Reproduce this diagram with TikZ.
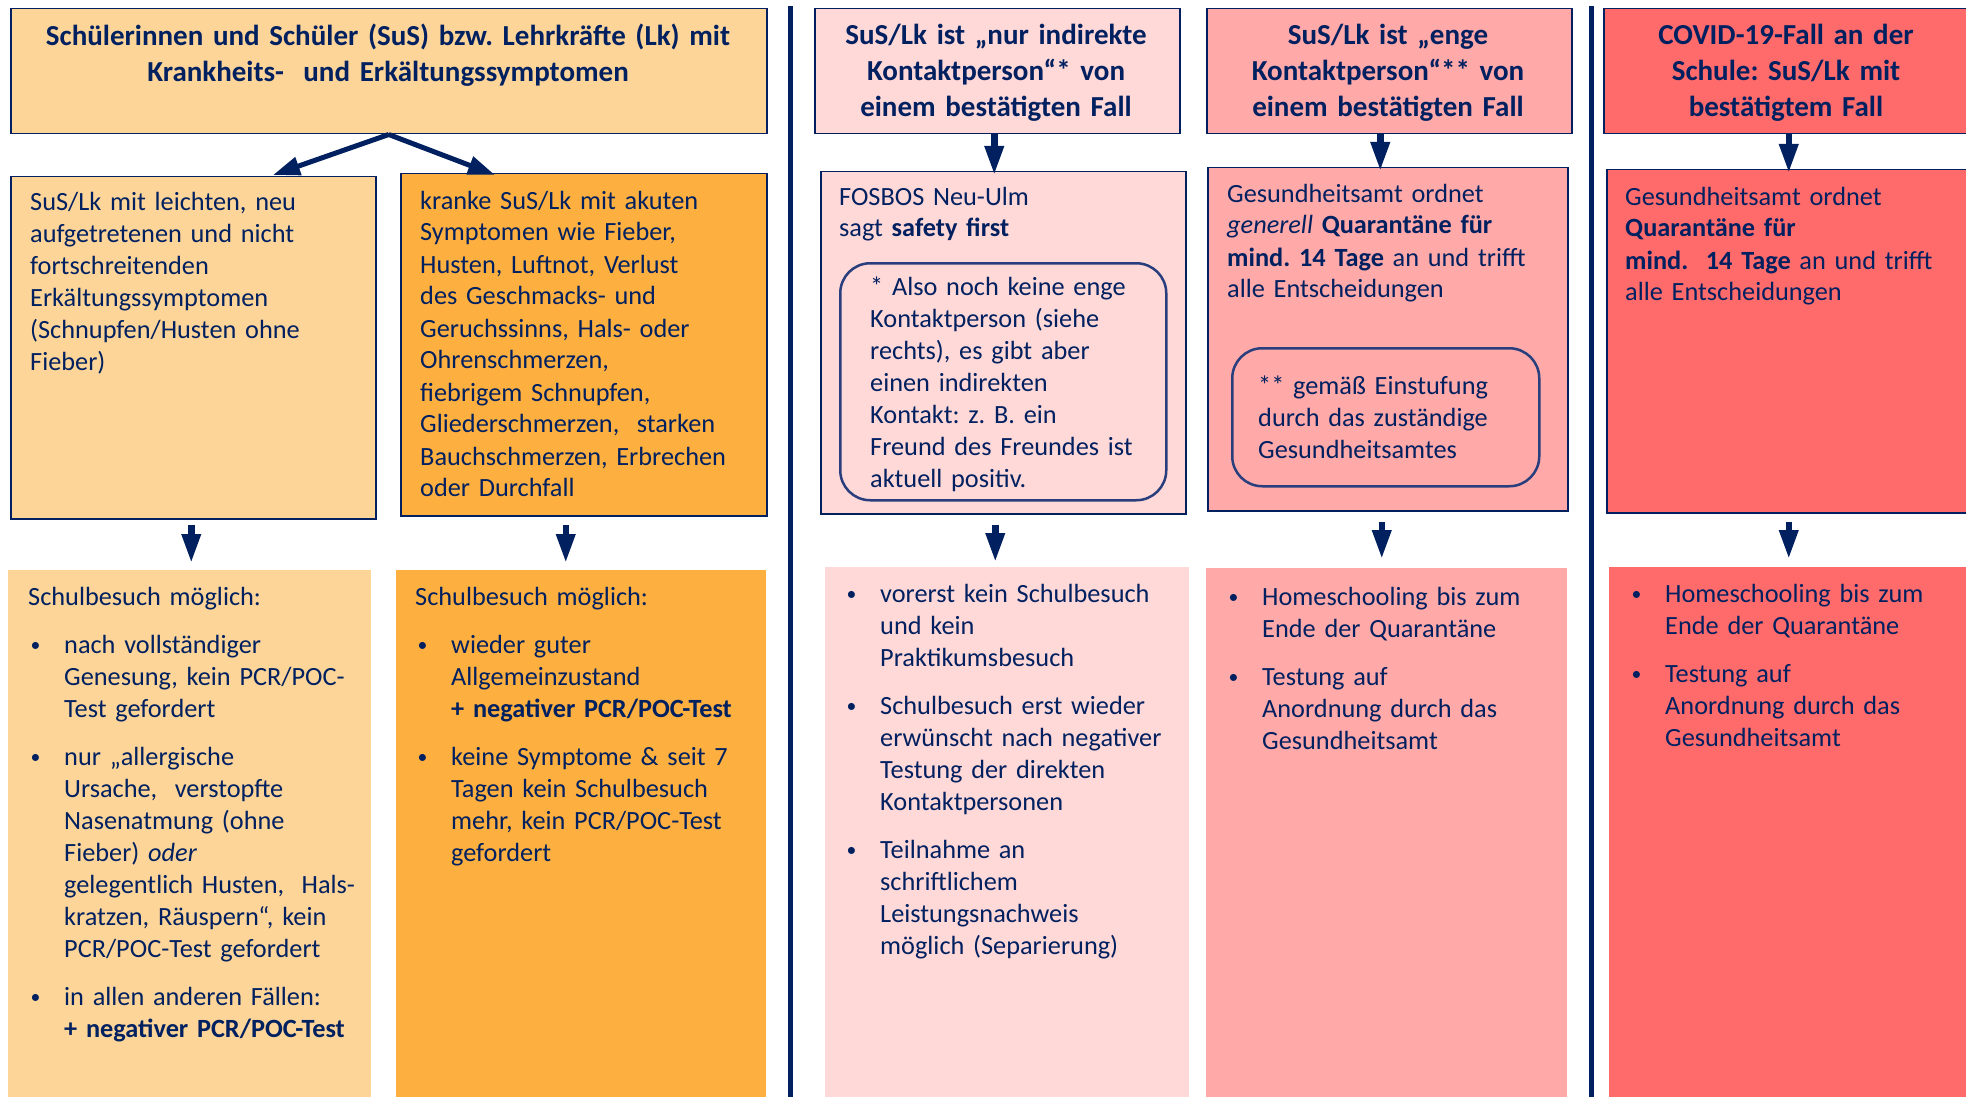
\documentclass[tikz,border=0pt]{standalone}
\usepackage{fontspec}
\usepackage{graphicx}
\setmainfont{Carlito}
\frenchspacing
\usetikzlibrary{arrows.meta,calc}
\definecolor{navy}{RGB}{0,32,96}
\definecolor{rbord}{RGB}{40,62,125}
\definecolor{lorange}{RGB}{253,213,153}
\definecolor{dorange}{RGB}{253,176,64}
\definecolor{lpink}{RGB}{255,216,216}
\definecolor{mpink}{RGB}{255,169,169}
\definecolor{dred}{RGB}{255,107,107}
\newcommand\mybullet{\raisebox{0.06em}{\scalebox{0.75}{\textbullet}}}
\newcommand\bitemfirst[1]{\hangindent=36pt\hangafter=1\noindent\makebox[36pt][l]{\hspace{2.5pt}\mybullet}#1\par}
\newcommand\bitem[1]{\par\vspace{16pt}\bitemfirst{#1}}
\begin{document}
\begin{tikzpicture}[x=1pt,y=-1pt,
  every node/.style={text=navy},
  framebox/.style={draw=navy, line width=1.5pt, anchor=north west, inner sep=0pt},
  bgbox/.style={draw=none, anchor=north west, inner sep=0pt},
  roundbox/.style={draw=rbord, line width=2.5pt, rounded corners=30pt, anchor=north west, inner sep=0pt},
  headtxt/.style={font=\fontsize{29}{36}\selectfont\bfseries, align=center, text width=#1, anchor=base, inner sep=0pt},
  bodytxt/.style={font=\fontsize{26.3}{32}\selectfont, align=left, text width=#1, anchor=base west, inner sep=0pt},
  arr/.style={draw=navy, line width=6.5pt, -{Triangle[width=18pt,length=29pt]}},
  arrthick/.style={draw=navy, line width=5pt, -{Triangle[width=18pt,length=27pt]}},
  divline/.style={draw=navy, line width=5pt},
]
\useasboundingbox (0,0) rectangle (1966,1097);
\fill[white] (0,0) rectangle (1966,1097);

% header boxes
\node[framebox, fill=lorange, minimum width=756, minimum height=125] (h1) at (10,8) {};
\node[framebox, fill=lpink, minimum width=365, minimum height=125] (h2) at (814,8) {};
\node[framebox, fill=mpink, minimum width=365, minimum height=125] (h3) at (1206,8) {};
\node[framebox, fill=dred, minimum width=380, minimum height=125] (h4) at (1603,8) {};

% dividers
\draw[divline] (790,6) -- (790,1097);
\draw[divline] (1591,6) -- (1591,1097);

% middle boxes
\node[framebox, fill=lorange, minimum width=365, minimum height=342] (A) at (10,176) {};
\node[framebox, fill=dorange, minimum width=366, minimum height=342] (B) at (400,173) {};
\node[framebox, fill=lpink, minimum width=365, minimum height=342] (C) at (820,171) {};
\node[framebox, fill=mpink, minimum width=360, minimum height=343] (D) at (1207,167) {};
\node[framebox, fill=dred, minimum width=380, minimum height=343] (E) at (1606,169) {};

% inner rounded boxes
\node[roundbox, minimum width=326, minimum height=237] (Cr) at (839,262) {};
\node[roundbox, minimum width=307, minimum height=138] (Dr) at (1231,347) {};

% bottom boxes
\node[bgbox, fill=lorange, minimum width=363, minimum height=527] (A2) at (8,570) {};
\node[bgbox, fill=dorange, minimum width=370, minimum height=527] (B2) at (396,570) {};
\node[bgbox, fill=lpink, minimum width=364, minimum height=530] (C2) at (825,567) {};
\node[bgbox, fill=mpink, minimum width=361, minimum height=529] (D2) at (1206,568) {};
\node[bgbox, fill=dred, minimum width=370, minimum height=530] (E2) at (1609,567) {};

% header texts
\node[headtxt=740] (h1t) at (388,46) {Schülerinnen und Schüler (SuS) bzw. Lehrkräfte (Lk) mit\\Krankheits-\ \ und Erkältungssymptomen};
\node[headtxt=350] (h2t) at (996,45) {SuS/Lk ist „nur indirekte\\Kontaktperson“* von\\einem bestätigten Fall};
\node[headtxt=350] (h3t) at (1388,45) {SuS/Lk ist „enge\\Kontaktperson“** von\\einem bestätigten Fall};
\node[headtxt=350] (h4t) at (1786,45) {COVID-19-Fall an der\\Schule: SuS/Lk mit\\bestätigtem Fall};

% middle texts
\node[bodytxt=340] (At) at (30,211) {SuS/Lk mit leichten, neu\\aufgetretenen und nicht\\fortschreitenden\\Erkältungssymptomen\\(Schnupfen/Husten ohne\\Fieber)};
\node[bodytxt=345] (Bt) at (420,209) {kranke SuS/Lk mit akuten\\Symptomen wie Fieber,\\Husten, Luftnot, Verlust\\des Geschmacks- und\\Geruchssinns, Hals- oder\\Ohrenschmerzen,\\fiebrigem Schnupfen,\\Gliederschmerzen,\ \ starken\\Bauchschmerzen, Erbrechen\\oder Durchfall};
\node[bodytxt=340] (Ct) at (839,205) {FOSBOS Neu-Ulm\\sagt \textbf{safety first}};
\node[bodytxt=290] (Crt) at (870,295) {* Also noch keine enge\\Kontaktperson (siehe\\rechts), es gibt aber\\einen indirekten\\Kontakt: z. B. ein\\Freund des Freundes ist\\aktuell positiv.};
\node[bodytxt=335] (Dt) at (1227,202) {Gesundheitsamt ordnet\\\textit{generell} \textbf{Quarantäne für}\\\textbf{mind. 14 Tage} an und trifft\\alle Entscheidungen};
\node[bodytxt=280] (Drt) at (1258,394) {** gemäß Einstufung\\durch das zuständige\\Gesundheitsamtes};
\node[bodytxt=335] (Et) at (1625,205) {Gesundheitsamt ordnet\\\textbf{Quarantäne für}\\\textbf{mind.\ \ 14 Tage} an und trifft\\alle Entscheidungen};

% bottom texts
\node[bodytxt=345] (A2t) at (28,605) {Schulbesuch möglich:
\bitem{nach vollständiger\newline Genesung, kein PCR/POC-\newline Test gefordert}
\bitem{nur „allergische\newline Ursache,\ \ verstopfte\newline Nasenatmung (ohne\newline Fieber) \textit{oder}\newline gelegentlich Husten,\ \ Hals-\newline kratzen, Räuspern“, kein\newline PCR/POC-Test gefordert}
\bitem{in allen anderen Fällen:\newline \textbf{+ negativer PCR/POC-Test}}};
\node[bodytxt=350] (B2t) at (415,605) {Schulbesuch möglich:
\bitem{wieder guter\newline Allgemeinzustand\newline \textbf{+ negativer PCR/POC-Test}}
\bitem{keine Symptome \& seit 7\newline Tagen kein Schulbesuch\newline mehr, kein PCR/POC-Test\newline gefordert}};
\node[bodytxt=345] (C2t) at (844,602) {\bitemfirst{vorerst kein Schulbesuch\newline und kein\newline Praktikumsbesuch}
\bitem{Schulbesuch erst wieder\newline erwünscht nach negativer\newline Testung der direkten\newline Kontaktpersonen}
\bitem{Teilnahme an\newline schriftlichem\newline Leistungsnachweis\newline möglich (Separierung)}};
\node[bodytxt=340] (D2t) at (1226,605) {\bitemfirst{Homeschooling bis zum\newline Ende der Quarantäne}
\bitem{Testung auf\newline Anordnung durch das\newline Gesundheitsamt}};
\node[bodytxt=330] (E2t) at (1629,602) {\bitemfirst{Homeschooling bis zum\newline Ende der Quarantäne}
\bitem{Testung auf\newline Anordnung durch das\newline Gesundheitsamt}};

% arrows from header 1
\draw[arrthick] (h1.south) -- ($(A.north west)+(263,-1)$);
\draw[arrthick] (h1.south) -- ($(B.north west)+(95,2)$);
% arrows from headers 2-4
\coordinate (h2x) at ($(h2.south)+(-3,0)$);
\coordinate (h3x) at ($(h3.south)+(-9,0)$);
\coordinate (h4x) at ($(h4.south)+(-5,0)$);
\draw[arr, shorten >=-4pt] (h2x) -- (h2x |- C.north);
\draw[arr, shorten >=-4pt] (h3x) -- (h3x |- D.north);
\draw[arr, shorten >=-4pt] (h4x) -- (h4x |- E.north);
% arrows to bottom boxes
\coordinate (ax) at ($(A.south)+(-2,0)$);
\coordinate (bx) at ($(B.south)+(-18,0)$);
\coordinate (cx) at ($(C.south)+(-8,0)$);
\coordinate (dx) at ($(D.south)+(-6,0)$);
\coordinate (ex) at ($(E.south)+(-8,0)$);
\draw[arr, shorten <=5pt, shorten >=7pt] (ax) -- (ax |- A2.north);
\draw[arr, shorten <=8pt, shorten >=7pt] (bx) -- (bx |- B2.north);
\draw[arr, shorten <=10pt, shorten >=5pt] (cx) -- (cx |- C2.north);
\draw[arr, shorten <=10pt, shorten >=9pt] (dx) -- (dx |- D2.north);
\draw[arr, shorten <=8pt, shorten >=8pt] (ex) -- (ex |- E2.north);
\end{tikzpicture}
\end{document}
